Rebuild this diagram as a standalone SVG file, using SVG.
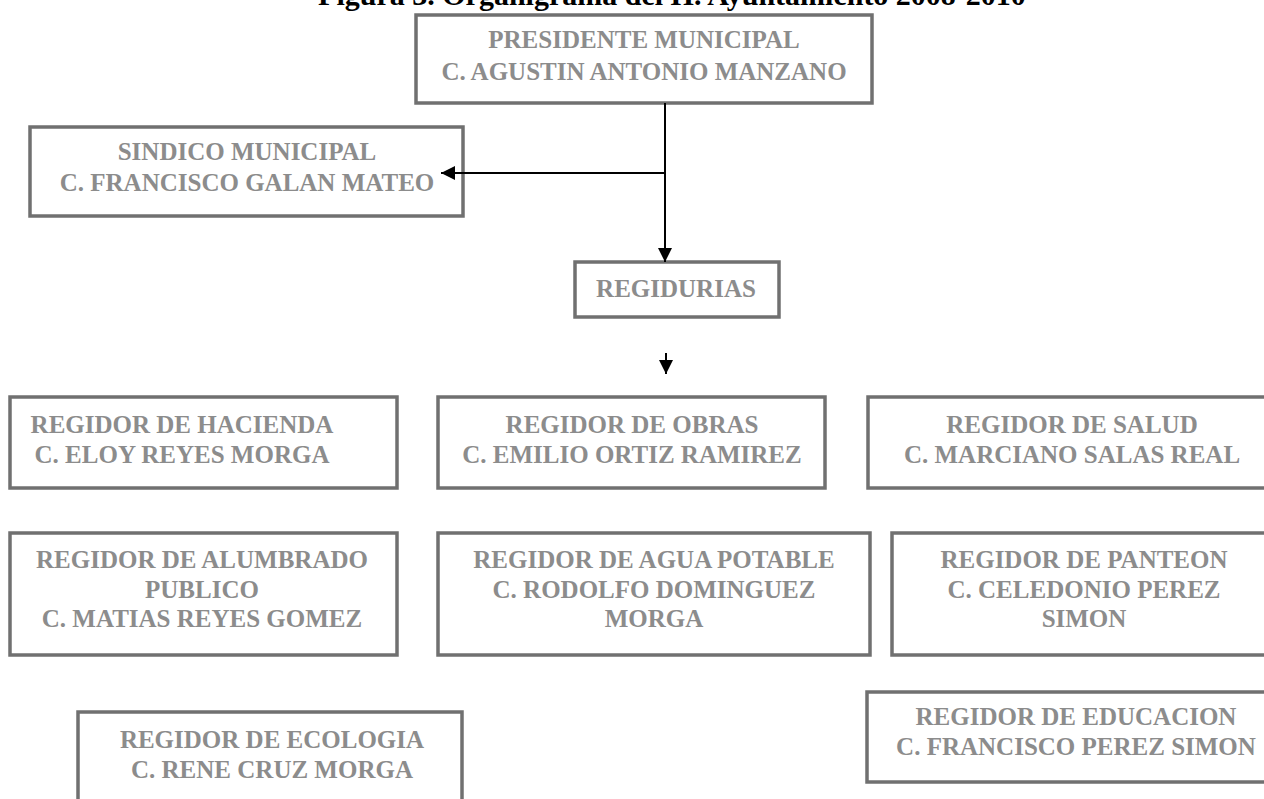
<svg xmlns="http://www.w3.org/2000/svg" width="1264" height="799" viewBox="0 0 1264 799">
<style>
.box{fill:#ffffff;stroke:#707070;stroke-width:3.5}
.t{font-family:"Liberation Serif","Times New Roman",serif;font-weight:bold;font-size:25px;fill:#8c8c8c;text-anchor:middle}
.title{font-family:"Liberation Serif","Times New Roman",serif;font-weight:bold;font-size:30px;fill:#000000;text-anchor:middle}
.conn{fill:none;stroke:#000000;stroke-width:2}
</style>
<defs>
<marker id="arr" viewBox="0 0 10 10" refX="10" refY="5" markerWidth="15" markerHeight="14" markerUnits="userSpaceOnUse" orient="auto">
<path d="M0,0 L10,5 L0,10 z" fill="#000000"/>
</marker>
</defs>
<rect width="1264" height="799" fill="#ffffff"/>
<text class="title" x="672" y="5">Figura 3. Organigrama del H. Ayuntamiento 2008-2010</text>

<g id="presidente">
<rect class="box" x="416" y="15" width="456" height="88"/>
<text class="t" x="644" y="48">PRESIDENTE MUNICIPAL</text>
<text class="t" x="644" y="80">C. AGUSTIN ANTONIO MANZANO</text>
</g>
<g id="sindico">
<rect class="box" x="30" y="127" width="433" height="89"/>
<text class="t" x="247" y="160">SINDICO MUNICIPAL</text>
<text class="t" x="247" y="191">C. FRANCISCO GALAN MATEO</text>
</g>
<g id="regidurias">
<rect class="box" x="575" y="262" width="204" height="55"/>
<text class="t" x="676" y="297">REGIDURIAS</text>
</g>
<g id="hacienda">
<rect class="box" x="10" y="397" width="387" height="91"/>
<text class="t" x="182" y="433">REGIDOR DE HACIENDA</text>
<text class="t" x="182" y="463">C. ELOY REYES MORGA</text>
</g>
<g id="obras">
<rect class="box" x="438" y="397" width="387" height="91"/>
<text class="t" x="632" y="433">REGIDOR DE OBRAS</text>
<text class="t" x="632" y="463">C. EMILIO ORTIZ RAMIREZ</text>
</g>
<g id="salud">
<rect class="box" x="868" y="397" width="420" height="91"/>
<text class="t" x="1072" y="433">REGIDOR DE SALUD</text>
<text class="t" x="1072" y="463">C. MARCIANO SALAS REAL</text>
</g>
<g id="alumbrado">
<rect class="box" x="10" y="533" width="387" height="122"/>
<text class="t" x="202" y="568">REGIDOR DE ALUMBRADO</text>
<text class="t" x="202" y="598">PUBLICO</text>
<text class="t" x="202" y="627">C. MATIAS REYES GOMEZ</text>
</g>
<g id="agua">
<rect class="box" x="438" y="533" width="432" height="122"/>
<text class="t" x="654" y="568">REGIDOR DE AGUA POTABLE</text>
<text class="t" x="654" y="598">C. RODOLFO DOMINGUEZ</text>
<text class="t" x="654" y="627">MORGA</text>
</g>
<g id="panteon">
<rect class="box" x="892" y="533" width="400" height="122"/>
<text class="t" x="1084" y="568">REGIDOR DE PANTEON</text>
<text class="t" x="1084" y="598">C. CELEDONIO PEREZ</text>
<text class="t" x="1084" y="627">SIMON</text>
</g>
<g id="ecologia">
<rect class="box" x="78" y="712" width="384" height="120"/>
<text class="t" x="272" y="748">REGIDOR DE ECOLOGIA</text>
<text class="t" x="272" y="778">C. RENE CRUZ MORGA</text>
</g>
<g id="educacion">
<rect class="box" x="867" y="692" width="420" height="90"/>
<text class="t" x="1076" y="725">REGIDOR DE EDUCACION</text>
<text class="t" x="1076" y="755">C. FRANCISCO PEREZ SIMON</text>
</g>

<g id="connectors">
<path class="conn" d="M665,103 L665,262" marker-end="url(#arr)"/>
<path class="conn" d="M665,173 L441,173" marker-end="url(#arr)"/>
<path class="conn" d="M666,353 L666,374" marker-end="url(#arr)"/>
</g>
</svg>
